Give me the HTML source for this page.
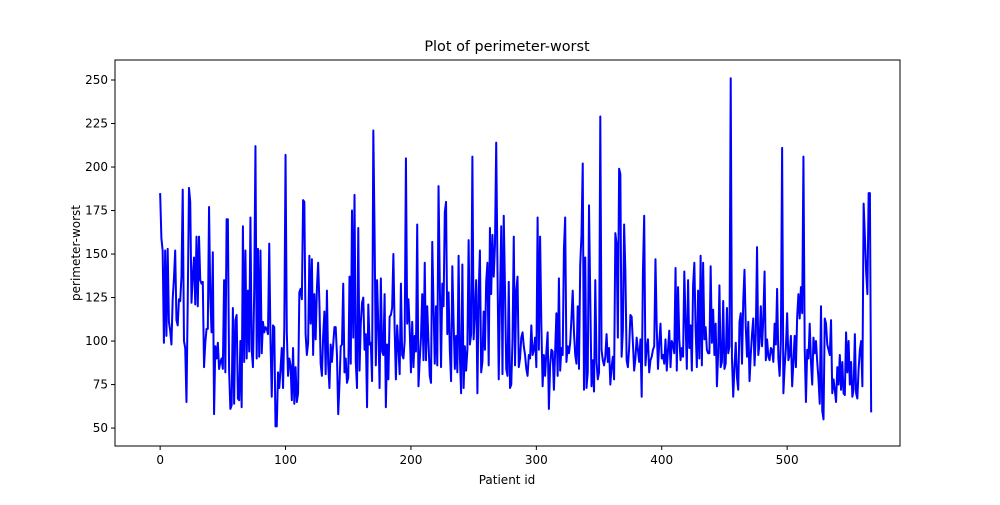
<!DOCTYPE html>
<html><head><meta charset="utf-8"><style>
body{margin:0;background:#fff;font-family:"Liberation Sans","DejaVu Sans",sans-serif;}
svg text{font-family:"DejaVu Sans","Liberation Sans",sans-serif;font-size:12px;fill:#000}
</style></head><body>
<svg id="chart" width="1000" height="500">
<rect x="0" y="0" width="1000" height="500" fill="#fff"/>
<text x="507" y="51" text-anchor="middle" style="font-size:14.4px">Plot of perimeter-worst</text>
<text x="507" y="484" text-anchor="middle">Patient id</text>
<text transform="translate(80,253) rotate(-90)" text-anchor="middle">perimeter-worst</text>
<g id="axes"></g>
<path id="line" fill="none" stroke="#0000ff" stroke-width="2" stroke-linejoin="round"/>
<rect x="115" y="60" width="785" height="386" fill="none" stroke="#000" stroke-width="1"/>
</svg>
<script>
const xTicks=[0,100,200,300,400,500];
const yTicks=[50,75,100,125,150,175,200,225,250];
const values=[185,159,152,99,152,103,153,111,106,98,124,136,152,112,109,124,123,137,187,100,96,65,123,188,180,122,137,148,121,160,120,160,135,133,134,85,99,107,107,177,125,105,151,58,97,90,99,84,88,90,84,135,82,170,170,83,61,63,119,64,112,115,67,66,100,62,166,88,152,90,129,94,171,95,85,128,212,90,153,91,152,93,111,105,108,107,104,156,100,68,109,108,51,51,82,73,84,96,73,107,207,105,80,90,86,66,96,64,85,65,70,128,130,124,181,180,104,92,99,149,110,147,92,127,101,130,145,122,87,80,103,117,81,129,87,73,98,88,98,108,108,92,58,75,97,98,133,82,90,76,79,137,87,175,102,184,88,73,165,83,110,122,125,95,104,62,121,98,99,77,221,162,86,135,108,73,136,94,92,127,62,98,78,114,115,119,150,107,78,109,96,81,133,92,90,100,205,110,124,107,82,111,85,103,94,167,74,89,102,127,89,145,89,120,99,80,76,157,120,87,120,86,189,134,85,133,120,174,180,104,128,95,77,143,111,84,103,82,149,91,70,144,73,97,83,95,158,98,104,206,101,117,135,70,128,152,82,88,117,95,134,145,86,165,127,161,137,155,214,142,78,124,166,81,172,130,84,80,134,73,75,101,160,86,129,137,85,90,102,105,97,92,84,80,92,90,109,92,95,102,85,171,95,160,109,74,92,80,94,105,61,86,95,94,72,94,116,80,136,83,96,92,153,171,88,97,93,99,113,129,105,92,87,120,84,144,161,202,72,148,73,82,178,125,74,89,71,135,88,78,82,229,95,89,86,91,104,88,96,75,85,91,78,162,156,102,199,196,91,106,167,140,89,85,96,115,114,99,83,90,102,95,88,101,68,140,172,86,96,101,82,89,91,95,97,147,108,84,99,110,90,92,87,101,83,95,106,85,100,98,93,142,83,131,101,89,96,91,140,111,84,135,96,109,83,132,145,107,85,129,90,149,86,145,101,108,95,93,93,143,99,118,92,110,74,93,132,85,88,123,84,87,119,93,97,251,90,68,85,99,79,72,111,116,87,123,141,108,91,111,77,92,104,113,86,104,154,92,99,120,97,113,140,89,101,91,89,96,95,88,110,98,130,90,80,100,211,70,85,96,116,89,92,103,74,88,103,85,114,127,113,131,116,206,96,65,95,90,110,88,75,102,93,100,88,78,64,120,60,55,113,110,98,95,92,112,70,78,72,65,85,75,92,72,88,70,69,105,82,100,75,88,68,72,104,70,67,84,95,100,74,179,160,140,127,185,185,59];
const X0=115,X1=900,Y0=446,Y1=60;
const xMin=-36,xMax=590,yMin=39.7,yMax=261.5;
const xs=v=>X0+(v-xMin)/(xMax-xMin)*(X1-X0);
const ys=v=>Y0-(v-yMin)/(yMax-yMin)*(Y0-Y1);
const NS="http://www.w3.org/2000/svg";
const axes=document.getElementById('axes');
xTicks.forEach(t=>{
  const l=document.createElementNS(NS,'line');
  l.setAttribute('x1',xs(t));l.setAttribute('x2',xs(t));l.setAttribute('y1',Y0);l.setAttribute('y2',Y0+4);l.setAttribute('stroke','#000');
  
  
  axes.appendChild(l);
  const tx=document.createElementNS(NS,'text');
  tx.setAttribute('x',xs(t));tx.setAttribute('y',Y0+18);tx.setAttribute('text-anchor','middle');tx.textContent=t;
  
  
  axes.appendChild(tx);
});
yTicks.forEach(t=>{
  const l=document.createElementNS(NS,'line');
  l.setAttribute('x1',X0-4);l.setAttribute('x2',X0);l.setAttribute('y1',ys(t));l.setAttribute('y2',ys(t));l.setAttribute('stroke','#000');
  
  
  axes.appendChild(l);
  const tx=document.createElementNS(NS,'text');
  tx.setAttribute('x',X0-7);tx.setAttribute('y',ys(t)+4);tx.setAttribute('text-anchor','end');tx.textContent=t;
  
  
  axes.appendChild(tx);
});
document.getElementById('line').setAttribute('d',values.map((v,i)=>(i?'L':'M')+xs(i).toFixed(2)+','+ys(v).toFixed(2)).join(''));
</script>
</body></html>
